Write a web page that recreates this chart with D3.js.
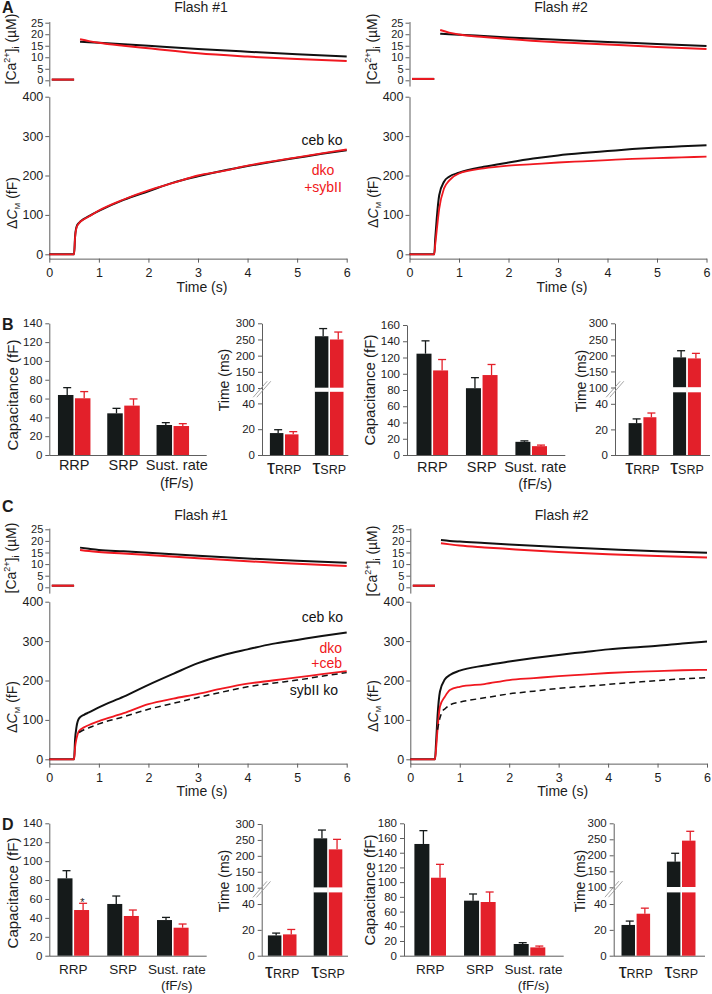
<!DOCTYPE html>
<html><head><meta charset="utf-8">
<script src="https://cdn.jsdelivr.net/npm/d3@7"></script>
<style>
body{margin:0;background:#fff;}
svg{display:block;}
</style></head><body>
<svg id="fig" width="712" height="994"></svg>
<script>
// ---------------- DATA ----------------
const timeTicks = [0, 1, 2, 3, 4, 5, 6];
const caTicks = [0, 5, 10, 15, 20, 25];
const cmTicks = [0, 100, 200, 300, 400];
const tauTicks = [0, 20, 40, 100, 150, 200, 250, 300];

const tCm = [0, 0.49, 0.5, 0.52, 0.55, 0.6, 0.7, 0.8, 1.0, 1.5, 2, 2.5, 3, 3.5, 4, 4.5, 5, 5.5, 6];
const tCa = [0.62, 0.8, 1, 1.5, 2, 3, 4, 5, 6];
const tCaPre = [0.05, 0.5];

// Panel A, flash #1 (ceb ko vs dko+sybII)
const a1CaPre = [0.3, 0.3];
const a1CaCebKo = [16.7, 16.5, 16.3, 15.7, 15.0, 13.6, 12.4, 11.3, 10.3];
const a1CaDkoSyb = [17.8, 17.0, 16.3, 15.0, 13.9, 11.7, 10.3, 9.2, 8.4];
const a1CmCebKo = [0, 0, 0, 45, 70, 80, 90, 97, 110, 138, 160, 182, 198, 212, 224, 235, 245, 255, 264];
const a1CmDkoSyb = [0, 0, 0, 43, 68, 79, 89, 96, 111, 139, 162, 181, 200, 211, 225, 236, 246, 256, 266];
// Panel A, flash #2
const a2CaPre = [0.6, 0.6];
const a2CaCebKo = [20.2, 20.0, 19.8, 19.2, 18.6, 17.6, 16.6, 15.8, 14.9];
const a2CaDkoSyb = [21.8, 20.7, 19.9, 18.8, 17.9, 16.5, 15.5, 14.5, 13.6];
const a2CmCebKo = [0, 0, 0, 40, 90, 150, 185, 197, 207, 222, 233, 243, 251, 257, 262, 267, 271, 274, 277];
const a2CmDkoSyb = [0, 0, 0, 25, 60, 115, 168, 187, 205, 218, 225, 229, 233, 236, 239, 242, 244, 246, 248];

// Panel C, flash #1 (ceb ko, dko+ceb, sybII ko)
const c1CaPre = [0.7, 0.7];
const c1CaCebKo = [17.1, 16.6, 16.1, 15.5, 14.9, 13.6, 12.4, 11.4, 10.6];
const c1CaDkoCeb = [16.1, 15.6, 15.2, 14.6, 13.9, 12.5, 11.2, 10.2, 9.2];
const c1CmCebKo = [0, 0, 0, 50, 83, 104, 113, 119, 132, 159, 189, 217, 244, 264, 279, 293, 303, 313, 322];
const c1CmDkoCeb = [0, 0, 0, 30, 53, 72, 81, 87, 97, 117, 140, 154, 166, 180, 192, 200, 208, 216, 224];
const tSyb1 = [0.6, 0.7, 0.8, 1.0, 1.5, 2, 2.5, 3, 3.5, 4, 4.5, 5, 5.5, 6];
const c1CmSybKo = [68, 75, 80, 90, 108, 127, 142, 157, 171, 184, 193, 201, 211, 220];
// Panel C, flash #2
const c2CaPre = [0.7, 0.7];
const c2CaCebKo = [20.4, 20.0, 19.7, 19.1, 18.5, 17.4, 16.4, 15.5, 14.9];
const c2CaDkoCeb = [19.0, 18.5, 18.0, 17.2, 16.5, 15.2, 14.2, 13.5, 12.8];
const c2CmCebKo = [0, 0, 0, 40, 108, 172, 203, 214, 225, 238, 248, 257, 265, 272, 279, 284, 288, 294, 299];
const c2CmDkoCeb = [0, 0, 0, 25, 74, 134, 159, 176, 184, 191, 201, 206, 211, 215, 219, 222, 224, 226, 227];
const tSyb2 = [0.55, 0.6, 0.65, 0.7, 0.8, 1.0, 1.5, 2, 2.5, 3, 3.5, 4, 4.5, 5, 5.5, 6];
const c2CmSybKo = [75, 105, 122, 128, 138, 145, 156, 166, 173, 180, 185, 190, 195, 200, 204, 207];

// Bar charts
const poolCats = ["RRP", "SRP", "Sust. rate"];
const tauCats = ["RRP", "SRP"];
// B flash #1
const bF1CebMean = [63.8, 44.3, 31.9], bF1CebSem = [7.8, 5.3, 2.5];
const bF1ResMean = [60.3, 52.5, 30.8], bF1ResSem = [7.1, 7.1, 2.5];
const bF1TauCebMean = [17.0, 260], bF1TauCebSem = [2.6, 23.7];
const bF1TauResMean = [16.0, 250], bF1TauResSem = [2.1, 23];
// B flash #2
const bF2CebMean = [124.7, 82.2, 16.2], bF2CebSem = [15.8, 13, 1.2];
const bF2ResMean = [104.1, 98.4, 10.9], bF2ResSem = [13.4, 13, 1.3];
const bF2TauCebMean = [24.9, 193.8], bF2TauCebSem = [3.3, 20.8];
const bF2TauResMean = [29.5, 190.6], bF2TauResSem = [3.3, 15.7];
// D flash #1
const dF1CebMean = [81.8, 54.7, 37.7], dF1CebSem = [8.1, 8.4, 2.8];
const dF1ResMean = [48.3, 42.0, 29.6], dF1ResSem = [7.1, 6.3, 3.9];
const dF1TauCebMean = [15.7, 255], dF1TauCebSem = [1.8, 26];
const dF1TauResMean = [16.5, 220.4], dF1TauResSem = [3.8, 31.4];
// D flash #2
const dF2CebMean = [151.9, 74.8, 15.9], dF2CebSem = [18.1, 9.1, 1.8];
const dF2ResMean = [106.0, 73.0, 11.3], dF2ResSem = [18.2, 13.6, 1.8];
const dF2TauCebMean = [23.8, 180.2], dF2TauCebSem = [3.0, 26.1];
const dF2TauResMean = [32.5, 245.8], dF2TauResSem = [4.3, 29.2];

// ---------------- DRAWING ----------------
const FONT = "'Liberation Sans', Arial, Helvetica, sans-serif";
const AX = "#5e5e5e", TXT = "#1c1c1c";
const LBLACK = "#111111", LRED = "#f01820";
const BBLACK = "#151a1a", BRED = "#e3202a";

const svg = d3.select("#fig").attr("font-family", FONT);
svg.append("rect").attr("width", 712).attr("height", 994).attr("fill", "#fff");

function styleAxis(g, fs) {
  g.attr("font-family", FONT).attr("font-size", fs);
  g.selectAll(".domain").attr("stroke", AX).attr("stroke-width", 1);
  g.selectAll(".tick line").attr("stroke", AX);
  g.selectAll(".tick text").attr("fill", TXT);
}

function text(x, y, str, opts = {}) {
  const t = svg.append("text").attr("x", x).attr("y", y).text(str)
    .attr("font-size", opts.size || 14).attr("fill", opts.fill || TXT)
    .attr("text-anchor", opts.anchor || "middle");
  if (opts.bold) t.attr("font-weight", "bold");
  return t;
}

function caLabel(x, y) {
  const t = svg.append("text").attr("transform", `translate(${x},${y}) rotate(-90)`)
    .attr("text-anchor", "middle").attr("font-size", 14).attr("fill", TXT);
  t.append("tspan").text("[Ca");
  t.append("tspan").attr("font-size", 9).attr("dy", -6).text("2+");
  t.append("tspan").attr("dy", 6).text("]");
  t.append("tspan").attr("font-size", 9).attr("dy", 3).text("i");
  t.append("tspan").attr("dy", -3).text(" (\u00b5M)");
}
function cmLabel(x, y) {
  const t = svg.append("text").attr("transform", `translate(${x},${y}) rotate(-90)`)
    .attr("text-anchor", "middle").attr("font-size", 14).attr("fill", TXT);
  t.append("tspan").text("\u0394");
  t.append("tspan").attr("font-style", "italic").text("C");
  t.append("tspan").attr("font-size", 8).attr("dy", 3).text("M");
  t.append("tspan").attr("dy", -3).text(" (fF)");
}
function vLabel(x, y, str, size) {
  svg.append("text").attr("transform", `translate(${x},${y}) rotate(-90)`)
    .attr("text-anchor", "middle").attr("font-size", size).attr("fill", TXT).text(str);
}

function tracePanel(L, S) {
  const x = d3.scaleLinear().domain([0, 6]).range([L.x0, L.x1]);
  const kCa = (L.ca0 - L.ca25) / 25;
  const yCa = d3.scaleLinear().domain([-2.5, 25.5]).range([L.ca0 + 2.5 * kCa, L.ca25 - 0.5 * kCa]);
  const kCm = (L.cm0 - L.cm400) / 400;
  const yCm = d3.scaleLinear().domain([-11, 400]).range([L.cm0 + 11 * kCm, L.cm400]);

  const gCa = svg.append("g").attr("transform", `translate(${L.x0},0)`)
    .call(d3.axisLeft(yCa).tickValues(caTicks).tickFormat(d3.format("d")).tickSize(4).tickPadding(2).tickSizeOuter(0));
  styleAxis(gCa, 11);
  const gCm = svg.append("g").attr("transform", `translate(${L.x0},0)`)
    .call(d3.axisLeft(yCm).tickValues(cmTicks).tickFormat(d3.format("d")).tickSize(4).tickPadding(2).tickSizeOuter(0));
  styleAxis(gCm, 12.5);
  const gX = svg.append("g").attr("transform", `translate(0,${yCm(-11)})`)
    .call(d3.axisBottom(x).tickValues(timeTicks).tickFormat(d3.format("d")).tickSize(4).tickPadding(5).tickSizeOuter(0));
  styleAxis(gX, 12.5);

  S.forEach(s => {
    const ys = s.scale === "ca" ? yCa : yCm;
    const gen = d3.line().x((d, i) => x(s.t[i])).y(d => ys(d)).curve(d3.curveMonotoneX);
    const p = svg.append("path").attr("d", gen(s.v)).attr("fill", "none")
      .attr("stroke", s.color).attr("stroke-width", s.w || 1.8).attr("stroke-linejoin", "round");
    if (s.dash) p.attr("stroke-dasharray", s.dash);
  });

  text((L.x0 + L.x1) / 2 + 3, L.titleY, L.title, { size: 14 });
  text((L.x0 + L.x1) / 2 + 4, L.timeY, "Time (s)", { size: 14 });
  caLabel(L.lblX, L.caLblY);
  cmLabel(L.lblX + 1, L.cmLblY);
}

function traceSeries(caPre, caBlack, caRed, cmBlack, cmRed, dashT, dashV) {
  const s = [
    { t: tCaPre, v: caPre, color: LBLACK, scale: "ca", w: 2 },
    { t: tCaPre, v: caPre, color: LRED, scale: "ca", w: 2 },
    { t: tCa, v: caBlack, color: LBLACK, scale: "ca", w: 2 },
    { t: tCa, v: caRed, color: LRED, scale: "ca", w: 2 },
    { t: tCm, v: cmBlack, color: LBLACK, scale: "cm", w: 2 },
    { t: tCm, v: cmRed, color: LRED, scale: "cm", w: 1.8 }
  ];
  if (dashT) s.push({ t: dashT, v: dashV, color: LBLACK, scale: "cm", w: 1.5, dash: "6,4" });
  return s;
}

// Panel A
tracePanel({ x0: 49.3, x1: 346.7, ca0: 80.3, ca25: 22.7, cm0: 254.3, cm400: 96.7,
  title: "Flash #1", titleY: 12, timeY: 292, lblX: 16, caLblY: 49, cmLblY: 203 },
  traceSeries(a1CaPre, a1CaCebKo, a1CaDkoSyb, a1CmCebKo, a1CmDkoSyb));
tracePanel({ x0: 409.5, x1: 706.5, ca0: 80.3, ca25: 22.7, cm0: 254.3, cm400: 96.7,
  title: "Flash #2", titleY: 12, timeY: 292, lblX: 377, caLblY: 49, cmLblY: 202 },
  traceSeries(a2CaPre, a2CaCebKo, a2CaDkoSyb, a2CmCebKo, a2CmDkoSyb));
text(322, 145, "ceb ko", { size: 14, fill: LBLACK });
text(323, 175, "dko", { size: 14, fill: LRED });
text(323, 192, "+sybII", { size: 14, fill: LRED });

// Panel C
tracePanel({ x0: 49.3, x1: 346.7, ca0: 587.3, ca25: 529.3, cm0: 759.3, cm400: 601.7,
  title: "Flash #1", titleY: 520, timeY: 796, lblX: 16, caLblY: 558, cmLblY: 707 },
  traceSeries(c1CaPre, c1CaCebKo, c1CaDkoCeb, c1CmCebKo, c1CmDkoCeb, tSyb1, c1CmSybKo));
tracePanel({ x0: 410.3, x1: 707, ca0: 587.3, ca25: 529.3, cm0: 759.3, cm400: 601.7,
  title: "Flash #2", titleY: 520, timeY: 796, lblX: 377, caLblY: 561, cmLblY: 706 },
  traceSeries(c2CaPre, c2CaCebKo, c2CaDkoCeb, c2CmCebKo, c2CmDkoCeb, tSyb2, c2CmSybKo));
text(343, 621.5, "ceb ko", { size: 14, fill: LBLACK, anchor: "end" });
text(342, 653, "dko", { size: 14, fill: LRED, anchor: "end" });
text(342, 668, "+ceb", { size: 14, fill: LRED, anchor: "end" });
text(338, 695, "sybII ko", { size: 14, fill: LBLACK, anchor: "end" });

// ---- bar charts ----
function errBars(g, xs, ys, means, sems, color, bw) {
  means.forEach((m, i) => {
    const cx = xs[i] + bw / 2 + 1.5;
    const top = ys(m + sems[i]);
    g.append("line").attr("x1", cx).attr("x2", cx).attr("y1", ys(m)).attr("y2", top)
      .attr("stroke", color).attr("stroke-width", 1.3);
    g.append("line").attr("x1", cx - 4).attr("x2", cx + 4).attr("y1", top).attr("y2", top)
      .attr("stroke", color).attr("stroke-width", 1.3);
  });
}

function poolPanel(L, cebM, cebS, resM, resS) {
  const y = d3.scaleLinear().domain([0, L.max]).range([L.y0, L.yTop]);
  const cx = d3.scalePoint().domain(poolCats).range([L.c0, L.c1]);
  const g = svg.append("g");
  const gy = g.append("g").attr("transform", `translate(${L.ax},0)`)
    .call(d3.axisLeft(y).ticks(L.max / 20).tickSize(4).tickPadding(3).tickSizeOuter(0));
  styleAxis(gy, 11.5);
  g.append("line").attr("x1", L.ax).attr("x2", L.end).attr("y1", L.y0 + 0.5).attr("y2", L.y0 + 0.5)
    .attr("stroke", AX).attr("stroke-width", 1);
  const bw = L.bw, gap = L.gap;
  const xb = poolCats.map(c => cx(c) - bw - gap / 2);
  const xr = poolCats.map(c => cx(c) + gap / 2);
  g.selectAll(null).data(cebM).join("rect").attr("x", (d, i) => xb[i]).attr("y", d => y(d))
    .attr("width", bw).attr("height", d => L.y0 - y(d)).attr("fill", BBLACK);
  g.selectAll(null).data(resM).join("rect").attr("x", (d, i) => xr[i]).attr("y", d => y(d))
    .attr("width", bw).attr("height", d => L.y0 - y(d)).attr("fill", BRED);
  errBars(g, xb, y, cebM, cebS, BBLACK, bw);
  errBars(g, xr, y, resM, resS, BRED, bw);
  poolCats.forEach((c, i) => {
    const off = i === 2 ? 4 : 0;
    text(cx(c) + off, L.lblY, c, { size: L.lblSize });
    if (i === 2) text(cx(c) + off, L.lblY + L.lblGap, "(fF/s)", { size: L.lblSize });
  });
  vLabel(L.vx, L.vy, "Capacitance (fF)", 15);
  return y;
}

function tauPanel(L, cebM, cebS, resM, resS) {
  const y = d3.scaleLinear().domain([0, 50, 100, 300]).range([L.y0, L.y50, L.y100, L.y300]);
  const cx = d3.scalePoint().domain(tauCats).range([L.c0, L.c1]);
  const g = svg.append("g");
  const gy = g.append("g").attr("transform", `translate(${L.ax},0)`)
    .call(d3.axisLeft(y).tickValues(tauTicks).tickSize(4).tickPadding(3).tickSizeOuter(0));
  styleAxis(gy, 11.5);
  g.append("line").attr("x1", L.ax).attr("x2", L.end).attr("y1", L.y0 + 0.5).attr("y2", L.y0 + 0.5)
    .attr("stroke", AX).attr("stroke-width", 1);
  // axis break marks
  const yb = (y(50) + y(100)) / 2;
  [-1.8, 1.8].forEach(o => {
    g.append("line").attr("x1", L.ax - 7 + o).attr("y1", yb + 8).attr("x2", L.ax + 7 + o).attr("y2", yb - 8)
      .attr("stroke", "#9a9a9a").attr("stroke-width", 0.9);
  });
  const bw = L.bw, gap = L.gap;
  const xb = tauCats.map(c => cx(c) - bw - gap / 2);
  const xr = tauCats.map(c => cx(c) + gap / 2);
  g.selectAll(null).data(cebM).join("rect").attr("x", (d, i) => xb[i]).attr("y", d => y(d))
    .attr("width", bw).attr("height", d => L.y0 - y(d)).attr("fill", BBLACK);
  g.selectAll(null).data(resM).join("rect").attr("x", (d, i) => xr[i]).attr("y", d => y(d))
    .attr("width", bw).attr("height", d => L.y0 - y(d)).attr("fill", BRED);
  // white gap across bars that pass the break
  [...cebM.map((d, i) => [d, xb[i]]), ...resM.map((d, i) => [d, xr[i]])].forEach(([d, xx]) => {
    if (d > 100) g.append("rect").attr("x", xx - 0.5).attr("y", y(100) - 0.3).attr("width", bw + 1)
      .attr("height", y(50) - y(100) + 1.6).attr("fill", "#fff");
  });
  errBars(g, xb, y, cebM, cebS, BBLACK, bw);
  errBars(g, xr, y, resM, resS, BRED, bw);
  tauCats.forEach(c => {
    const t = svg.append("text").attr("x", cx(c)).attr("y", L.lblY).attr("text-anchor", "middle")
      .attr("fill", TXT);
    t.append("tspan").attr("font-size", 20).text("\u03c4");
    t.append("tspan").attr("font-size", 12.5).text(c);
  });
  vLabel(L.vx, L.vy, "Time (ms)", 14);
}

// Panel B
poolPanel({ max: 140, y0: 455, yTop: 323.3, ax: 49.3, end: 206.7, c0: 74.2, c1: 172.8, bw: 15.5, gap: 1.5,
  lblY: 470, lblGap: 18, lblSize: 14.5, vx: 18, vy: 395 }, bF1CebMean, bF1CebSem, bF1ResMean, bF1ResSem);
tauPanel({ y0: 455, y50: 390.5, y100: 388, y300: 323.3, ax: 262, end: 348.3, c0: 284.2, c1: 329.2,
  bw: 13.5, gap: 1.6, lblY: 473.5, vx: 229, vy: 380 }, bF1TauCebMean, bF1TauCebSem, bF1TauResMean, bF1TauResSem);
poolPanel({ max: 160, y0: 455, yTop: 325, ax: 407, end: 565.3, c0: 432.3, c1: 531.2, bw: 15, gap: 1.6,
  lblY: 471.5, lblGap: 17, lblSize: 14.5, vx: 375, vy: 390 }, bF2CebMean, bF2CebSem, bF2ResMean, bF2ResSem);
tauPanel({ y0: 455, y50: 391, y100: 387.5, y300: 323.3, ax: 615, end: 710, c0: 642.5, c1: 687,
  bw: 13, gap: 1.8, lblY: 474, vx: 586, vy: 381 }, bF2TauCebMean, bF2TauCebSem, bF2TauResMean, bF2TauResSem);

// Panel D
poolPanel({ max: 140, y0: 955.7, yTop: 823.3, ax: 49.3, end: 206.7, c0: 73.3, c1: 172.8, bw: 15, gap: 1.6,
  lblY: 974, lblGap: 15.5, lblSize: 13.5, vx: 18, vy: 893 }, dF1CebMean, dF1CebSem, dF1ResMean, dF1ResSem);
tauPanel({ y0: 955.7, y50: 891.1, y100: 887.7, y300: 824, ax: 261.7, end: 348, c0: 282.2, c1: 328,
  bw: 13.5, gap: 1.6, lblY: 978, vx: 229, vy: 881 }, dF1TauCebMean, dF1TauCebSem, dF1TauResMean, dF1TauResSem);
poolPanel({ max: 180, y0: 955.7, yTop: 823.3, ax: 404, end: 563.7, c0: 430.2, c1: 529.5, bw: 15, gap: 1.6,
  lblY: 974, lblGap: 15.5, lblSize: 13.5, vx: 375, vy: 890 }, dF2CebMean, dF2CebSem, dF2ResMean, dF2ResSem);
tauPanel({ y0: 955.7, y50: 891.1, y100: 887.3, y300: 823.3, ax: 613.7, end: 705, c0: 635.8, c1: 681.2,
  bw: 13.5, gap: 1.6, lblY: 978, vx: 585, vy: 881 }, dF2TauCebMean, dF2TauCebSem, dF2TauResMean, dF2TauResSem);
// significance star on dko+ceb RRP (flash #1)
text(82.5, 906, "*", { size: 11 });

// Panel letters
text(2, 12.5, "A", { size: 16, bold: true, anchor: "start" });
text(2, 330, "B", { size: 16, bold: true, anchor: "start" });
text(2, 512, "C", { size: 16, bold: true, anchor: "start" });
text(2, 830, "D", { size: 16, bold: true, anchor: "start" });
</script>
</body></html>
